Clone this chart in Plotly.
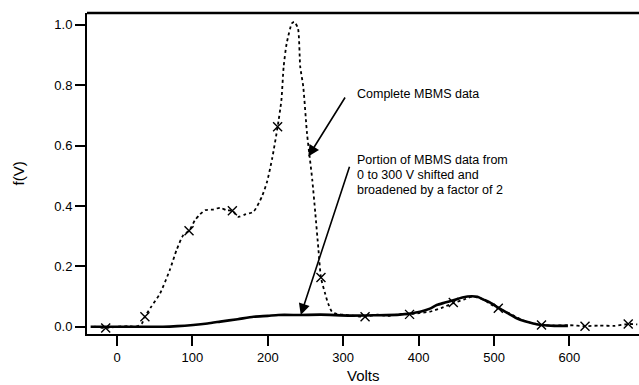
import plotly.graph_objects as go

# Complete MBMS data (dotted)
complete_v = [-30, -15, 0, 15, 25, 33, 37, 45, 57, 70, 79, 88, 95.5, 103.5, 110, 117, 127, 137, 145, 153, 161, 170, 181, 192,
              199, 206, 213, 218, 221, 225, 232, 235, 240, 243, 247, 252, 256, 259, 263, 267, 270.5, 276, 280, 285, 292,
              300, 315, 329, 345, 360, 375, 388, 402, 415, 430, 446, 460, 472, 486, 496, 505.7, 520, 535, 550, 563,
              580, 600, 620.7, 640, 660, 678, 690]
complete_f = [0.0, -0.004, 0.0, 0.002, 0.0, 0.011, 0.033, 0.065, 0.11, 0.188, 0.254, 0.304, 0.318, 0.353, 0.372, 0.386, 0.388,
              0.394, 0.386, 0.384, 0.364, 0.372, 0.381, 0.43,
              0.48, 0.56, 0.662, 0.75, 0.861, 0.938, 1.005, 1.01, 0.988, 0.861, 0.795, 0.64, 0.552, 0.486, 0.376, 0.26,
              0.163, 0.11, 0.077, 0.05, 0.042,
              0.04, 0.036, 0.033, 0.04, 0.036, 0.042, 0.041, 0.046, 0.05, 0.062, 0.078, 0.09, 0.1, 0.09, 0.074, 0.061,
              0.045, 0.025, 0.012, 0.006,
              0.004, 0.005, 0.002, 0.004, 0.003, 0.009, 0.008]

# Marker positions on complete data
marker_v = [-15, 37, 95.5, 153, 213, 270.5, 329, 388, 446, 505.7, 563, 620.7, 678]
marker_f = [-0.004, 0.033, 0.318, 0.384, 0.662, 0.163, 0.033, 0.041, 0.08, 0.061, 0.006, 0.002, 0.009]

# Portion of MBMS data shifted and broadened (solid)
broad_v = [-35, 0, 30, 61, 80, 101, 120, 137, 160, 181, 200, 214, 243.7, 270, 309, 340, 375, 402, 415, 424, 435, 446,
           458, 470.4, 478, 486, 495, 505.7, 518, 530, 541, 552, 563, 580, 598]
broad_f = [0.0, 0.0, 0.0, 0.0, 0.002, 0.006, 0.011, 0.017, 0.025, 0.033, 0.036, 0.039, 0.039, 0.04, 0.037, 0.038, 0.04,
           0.05, 0.06, 0.072, 0.08, 0.088, 0.097, 0.101, 0.099, 0.09, 0.08, 0.063, 0.045, 0.028, 0.018, 0.011, 0.006,
           0.003, 0.003]

x_ticks = [0, 100, 200, 300, 400, 500, 600]
y_ticks = [0.0, 0.2, 0.4, 0.6, 0.8, 1.0]

label_complete = "Complete MBMS data"
label_portion = ["Portion of MBMS data from", "0 to 300 V shifted and", "broadened by a factor of 2"]

FONT = "Liberation Sans, Arial, Helvetica, sans-serif"

fig = go.Figure()
fig.add_trace(go.Scatter(x=broad_v, y=broad_f, mode="lines",
                         line=dict(color="black", width=2.6, shape="spline", smoothing=0.6),
                         hoverinfo="skip"))
fig.add_trace(go.Scatter(x=complete_v, y=complete_f, mode="lines",
                         line=dict(color="black", width=1.8, dash="3px,3px", shape="spline", smoothing=0.6),
                         hoverinfo="skip"))
fig.add_trace(go.Scatter(x=marker_v, y=marker_f, mode="markers",
                         marker=dict(symbol="x-thin", size=9, line=dict(color="black", width=1.4)),
                         hoverinfo="skip"))

# arrows
fig.add_annotation(x=253.7, y=0.564, ax=303.7, ay=0.764, xref="x", yref="y", axref="x", ayref="y",
                   text="", showarrow=True, arrowhead=2, arrowsize=1.4, arrowwidth=1.6, arrowcolor="black")
fig.add_annotation(x=243.7, y=0.039, ax=309, ay=0.535, xref="x", yref="y", axref="x", ayref="y",
                   text="", showarrow=True, arrowhead=2, arrowsize=1.4, arrowwidth=1.6, arrowcolor="black")

fig.add_annotation(x=(355 - 117) / 0.754, y=(326.7 - 93.5) / 302, xref="x", yref="y", text=label_complete,
                   showarrow=False, xanchor="left", yanchor="middle", font=dict(family=FONT, size=12.5, color="black"))
for i, line in enumerate(label_portion):
    py = 160 + 15 * i
    fig.add_annotation(x=(355 - 117) / 0.754, y=(326.7 - py) / 302, xref="x", yref="y", text=line,
                       showarrow=False, xanchor="left", yanchor="middle",
                       font=dict(family=FONT, size=12.5, color="black"))

# axis titles
fig.add_annotation(x=0.5, y=0, xref="paper", yref="paper", yshift=-41, text="Volts", showarrow=False,
                   xanchor="center", yanchor="middle", font=dict(family=FONT, size=15, color="black"))
fig.add_annotation(x=0, y=0.5, xref="paper", yref="paper", xshift=-69, text="f(V)", showarrow=False,
                   textangle=-90, xanchor="center", yanchor="middle", font=dict(family=FONT, size=15, color="black"))

fig.update_layout(
    width=639, height=385,
    margin=dict(l=87, r=0, t=13, b=51),
    paper_bgcolor="white", plot_bgcolor="white",
    showlegend=False,
    font=dict(family=FONT, size=13, color="black"),
    xaxis=dict(range=[-39.8, 692.3], tickvals=x_ticks, ticks="outside", ticklen=10, tickwidth=2,
               tickcolor="black", showline=True, linecolor="black", linewidth=2, mirror=False,
               showgrid=False, zeroline=False, tickfont=dict(family=FONT, size=13)),
    yaxis=dict(range=[-0.024, 1.039], tickvals=y_ticks, tickformat=".1f", ticks="outside", ticklen=10,
               tickwidth=2, tickcolor="black", showline=True, linecolor="black", linewidth=2,
               showgrid=False, zeroline=False, tickfont=dict(family=FONT, size=13)),
)
# top border line
fig.add_shape(type="line", xref="paper", yref="paper", x0=0, x1=1, y0=1, y1=1,
              line=dict(color="black", width=2.5))

fig.write_html("out.html")
